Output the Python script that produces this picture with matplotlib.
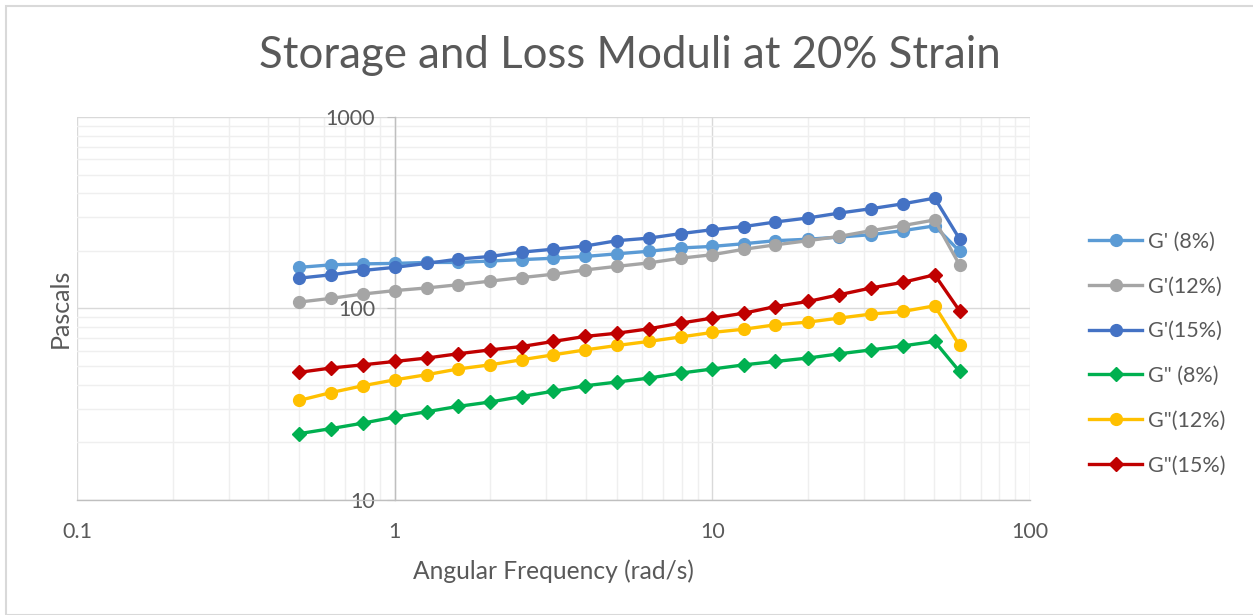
import matplotlib
matplotlib.use('Agg')
import matplotlib.pyplot as plt
from matplotlib.patches import Rectangle
from matplotlib.ticker import LogLocator, NullFormatter, FixedLocator, FixedFormatter

# angular frequency (rad/s)
freq = [0.5, 0.631, 0.794, 1.0, 1.26, 1.58, 2.0, 2.51, 3.16, 3.98,
        5.01, 6.31, 7.94, 10.0, 12.6, 15.8, 20.0, 25.1, 31.6, 39.8, 50.1, 60.0]

g1_8 = [164, 169, 171, 172, 174, 174, 177, 180, 183, 187,
        193, 199, 207, 211, 218, 226, 230, 236, 243, 255, 270, 199]
g1_12 = [108, 113, 119, 124, 128, 133, 139, 145, 151, 159,
         166, 173, 183, 191, 204, 215, 226, 238, 255, 271, 290, 169]
g1_15 = [144, 150, 158, 164, 172, 181, 187, 197, 204, 212,
         226, 233, 246, 258, 268, 283, 297, 315, 332, 352, 377, 231]
g2_8 = [22.2, 23.6, 25.2, 27.1, 28.9, 30.8, 32.5, 34.7, 37.0, 39.5,
        41.3, 43.3, 46.0, 48.3, 50.8, 52.9, 55.1, 58.0, 60.8, 63.8, 67.3, 46.9]
g2_12 = [33.1, 36.4, 39.5, 42.4, 45.1, 48.3, 50.8, 54.0, 57.3, 60.8,
         64.1, 67.3, 71.0, 75.0, 78.0, 82.2, 84.9, 89.1, 93.5, 96.5, 103.3, 64.1]
g2_15 = [46.4, 48.9, 50.8, 52.9, 55.1, 58.0, 60.8, 63.3, 67.3, 71.5,
         74.3, 78.3, 83.9, 89.1, 94.6, 102.4, 108.8, 118, 128, 137, 150, 97.3]

series = [
    ("G' (8%)", g1_8, '#5B9BD5', 'o'),
    ("G'(12%)", g1_12, '#A5A5A5', 'o'),
    ("G'(15%)", g1_15, '#4472C4', 'o'),
    ('G" (8%)', g2_8, '#00B050', 'D'),
    ('G"(12%)', g2_12, '#FFC000', 'o'),
    ('G"(15%)', g2_15, '#C00000', 'D'),
]

plt.rcParams['font.family'] = ['Lato', 'DejaVu Sans']
txt = '#595959'

W, H = 1253, 615
fig = plt.figure(figsize=(W / 100, H / 100), dpi=100)
fig.patches.append(Rectangle((6 / W, 0), 1.2, 1 - 5.5 / H, transform=fig.transFigure,
                             fill=False, edgecolor='#D9D9D9', linewidth=1.5))

ax = fig.add_axes([77 / W, 1 - 500 / H, (1030 - 77) / W, (500 - 117) / H])
ax.set_xscale('log')
ax.set_yscale('log')
ax.set_xlim(0.1, 100)
ax.set_ylim(10, 1000)

for name, vals, col, mk in series:
    ms = 8.5 if mk == 'o' else 7.5
    ax.plot(freq, vals, color=col, marker=mk, markersize=ms, linewidth=2.4,
            label=name, zorder=3)

ax.xaxis.set_major_locator(FixedLocator([0.1, 1, 10, 100]))
ax.xaxis.set_major_formatter(FixedFormatter(['0.1', '1', '10', '100']))
ax.yaxis.set_major_locator(FixedLocator([10, 100, 1000]))
ax.yaxis.set_major_formatter(FixedFormatter(['10', '100', '1000']))
for axis in (ax.xaxis, ax.yaxis):
    axis.set_minor_locator(LogLocator(base=10, subs=range(2, 10), numticks=20))
    axis.set_minor_formatter(NullFormatter())

ax.grid(True, which='major', color='#D9D9D9', linewidth=1.0, zorder=0)
ax.grid(True, which='minor', color='#EFEFEF', linewidth=1.0, zorder=0)
ax.set_axisbelow(True)

for s in ('top', 'right'):
    ax.spines[s].set_visible(False)
ax.spines['left'].set_position(('data', 1))
ax.spines['left'].set_color('#BFBFBF')
ax.spines['bottom'].set_color('#BFBFBF')
ax.spines['left'].set_linewidth(1.0)
ax.spines['bottom'].set_linewidth(1.0)

ax.tick_params(axis='x', which='major', length=0, pad=16, labelsize=15.5, labelcolor=txt)
ax.tick_params(axis='y', which='major', length=6, color='#BFBFBF', pad=8, labelsize=15.5, labelcolor=txt)
ax.tick_params(which='minor', length=0)

fig.text(630 / W, 1 - 55 / H, 'Storage and Loss Moduli at 20% Strain', ha='center', va='center',
         fontsize=31.5, color=txt)
fig.text(553 / W, 1 - 571 / H, 'Angular Frequency (rad/s)', ha='center', va='center',
         fontsize=17.7, color=txt)
fig.text(60 / W, 1 - 308 / H, 'Pascals', ha='center', va='center', rotation=90,
         fontsize=18, color=txt)

leg = fig.legend(loc='upper left', bbox_to_anchor=(1080 / W, 1 - 223 / H), frameon=False,
                 fontsize=15.5, handlelength=2.5, handletextpad=0.25, labelspacing=1.15,
                 borderaxespad=0)
for t in leg.get_texts():
    t.set_color(txt)

fig.savefig('out.png', dpi=100)
